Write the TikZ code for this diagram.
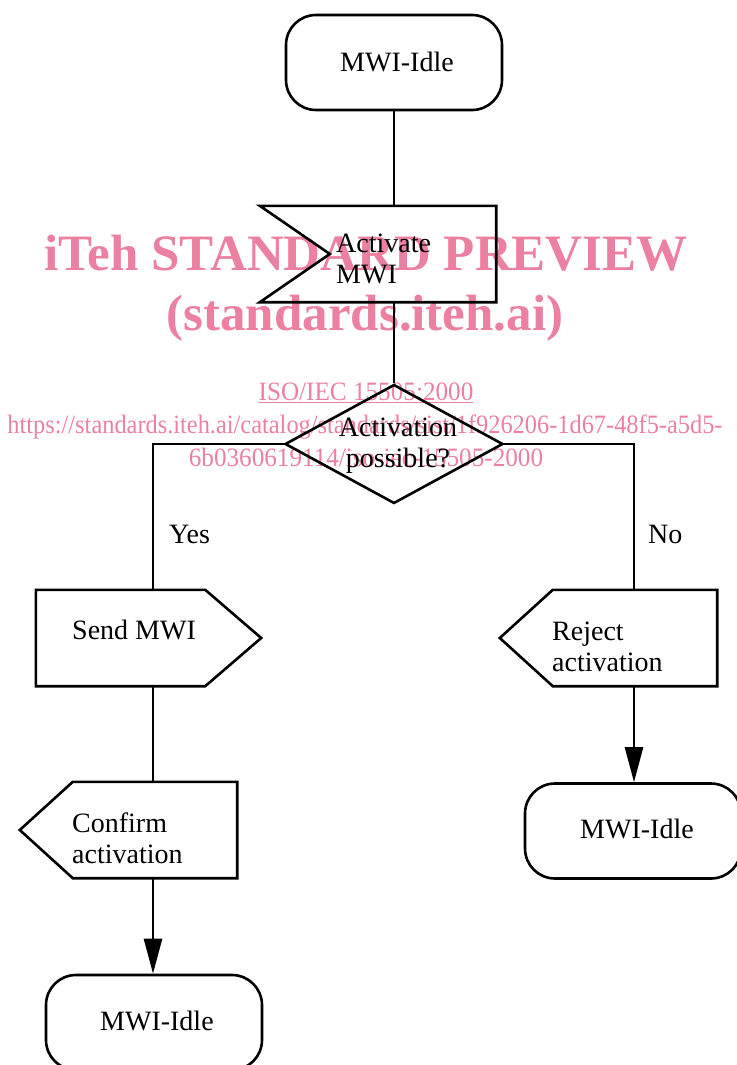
\documentclass[tikz,border=0pt]{standalone}
\usepackage{fontspec}
\setmainfont{Liberation Serif}
\usetikzlibrary{arrows.meta,shapes.geometric}
\definecolor{wm}{RGB}{236,128,160}
\tikzset{
  x={(1pt,0)}, y={(0,-1pt)},
  outline/.style={draw=black, line width=2.6pt, line join=miter},
  body/.style={rectangle, draw=none, inner sep=0pt},
  idle/.style={rectangle, rounded corners=30pt, draw=black, line width=2.6pt,
    minimum width=216pt, minimum height=95pt, inner sep=0pt},
  txt/.style={font=\fontsize{28}{31}\selectfont, inner sep=0pt, align=left},
  conn/.style={line width=2.6pt},
  arr/.style={conn, -{Triangle[length=35pt,width=18pt]}},
  wmbig/.style={text=wm, font=\fontsize{51}{51}\selectfont\bfseries, inner sep=0pt, anchor=base},
  wmsmall/.style={text=wm, font=\fontsize{26.5}{26.5}\selectfont, inner sep=0pt, anchor=base}
}
\begin{document}
\begin{tikzpicture}
\useasboundingbox (0,0) rectangle (736,1065);
\coordinate (lx) at (153,0);
\coordinate (rx) at (634,0);

% watermark (underneath)
\node[wmbig] (wm1) at (366,270) {iTeh STANDARD PREVIEW};
\node[wmbig] (wm2) at (365,330) {(standards.iteh.ai)};
\node[wmsmall] (wm3) at (366,400) {\scalebox{0.95}[1]{\underline{ISO/IEC 15505:2000}}};
\node[wmsmall] (wm4) at (365,433) {\scalebox{0.92}[1]{https://standards.iteh.ai/catalog/standards/sist/1f926206-1d67-48f5-a5d5-}};
\node[wmsmall] (wm5) at (366,466) {\scalebox{0.95}[1]{6b0360619114/iso-iec-15505-2000}};

% states
\node[idle] (top) at (394,62.5) {};
\node[idle] (idleR) at (633,831) {};
\node[idle] (idleL) at (154,1022.5) {};

% shape bodies
\node[body, minimum width=236pt, minimum height=96pt] (act) at (378,254) {};
\draw[outline] (act.north west) -- (act.north east) -- (act.south east) -- (act.south west)
  -- ([xshift=70pt]act.west) -- cycle;
\node[diamond, draw=black, line width=2.6pt, minimum width=218pt, minimum height=119pt, inner sep=0pt] (dec) at (394,444) {};
\node[body, minimum width=225pt, minimum height=96pt] (send) at (148.5,638) {};
\draw[outline] (send.north west) -- ([xshift=-56pt]send.north east) -- (send.east)
  -- ([xshift=-56pt]send.south east) -- (send.south west) -- cycle;
\node[body, minimum width=217pt, minimum height=96pt] (conf) at (128.5,830) {};
\draw[outline] ([xshift=53pt]conf.north west) -- (conf.north east) -- (conf.south east)
  -- ([xshift=53pt]conf.south west) -- (conf.west) -- cycle;
\node[body, minimum width=217pt, minimum height=96pt] (rej) at (608.5,638) {};
\draw[outline] ([xshift=53pt]rej.north west) -- (rej.north east) -- (rej.south east)
  -- ([xshift=53pt]rej.south west) -- (rej.west) -- cycle;

% texts
\node[txt, anchor=base west] (topt) at (340,71) {MWI-Idle};
\node[txt, anchor=base west] (idleRt) at (580,838) {MWI-Idle};
\node[txt, anchor=base west] (idleLt) at (100,1030) {MWI-Idle};
\node[txt, anchor=base west] (actt) at (336,283) {Activate\\MWI};
\node[txt, anchor=base, align=center] (dect) at (398,467) {Activation\\possible?};
\node[txt, anchor=base west] (sendt) at (72,639) {Send MWI};
\node[txt, anchor=base west] (conft) at (72,863) {Confirm\\activation};
\node[txt, anchor=base west] (rejt) at (552,671) {Reject\\activation};
\node[txt, anchor=base west] (yes) at (169,543) {Yes};
\node[txt, anchor=base west] (no) at (648,543) {No};

% connectors
\draw[conn] (top.south) -- (top.south |- act.north);
\draw[conn] (dec.north |- act.south) -- (dec.north);
\draw[conn] (dec.west) -- (lx |- dec.west) -- (lx |- send.north);
\draw[conn] (dec.east) -- (rx |- dec.east) -- (rx |- rej.north);
\draw[conn] (lx |- send.south) -- (lx |- conf.north);
\draw[arr] (lx |- conf.south) -- (lx |- idleL.north);
\draw[arr] (rx |- rej.south) -- (rx |- idleR.north);
\end{tikzpicture}
\end{document}
